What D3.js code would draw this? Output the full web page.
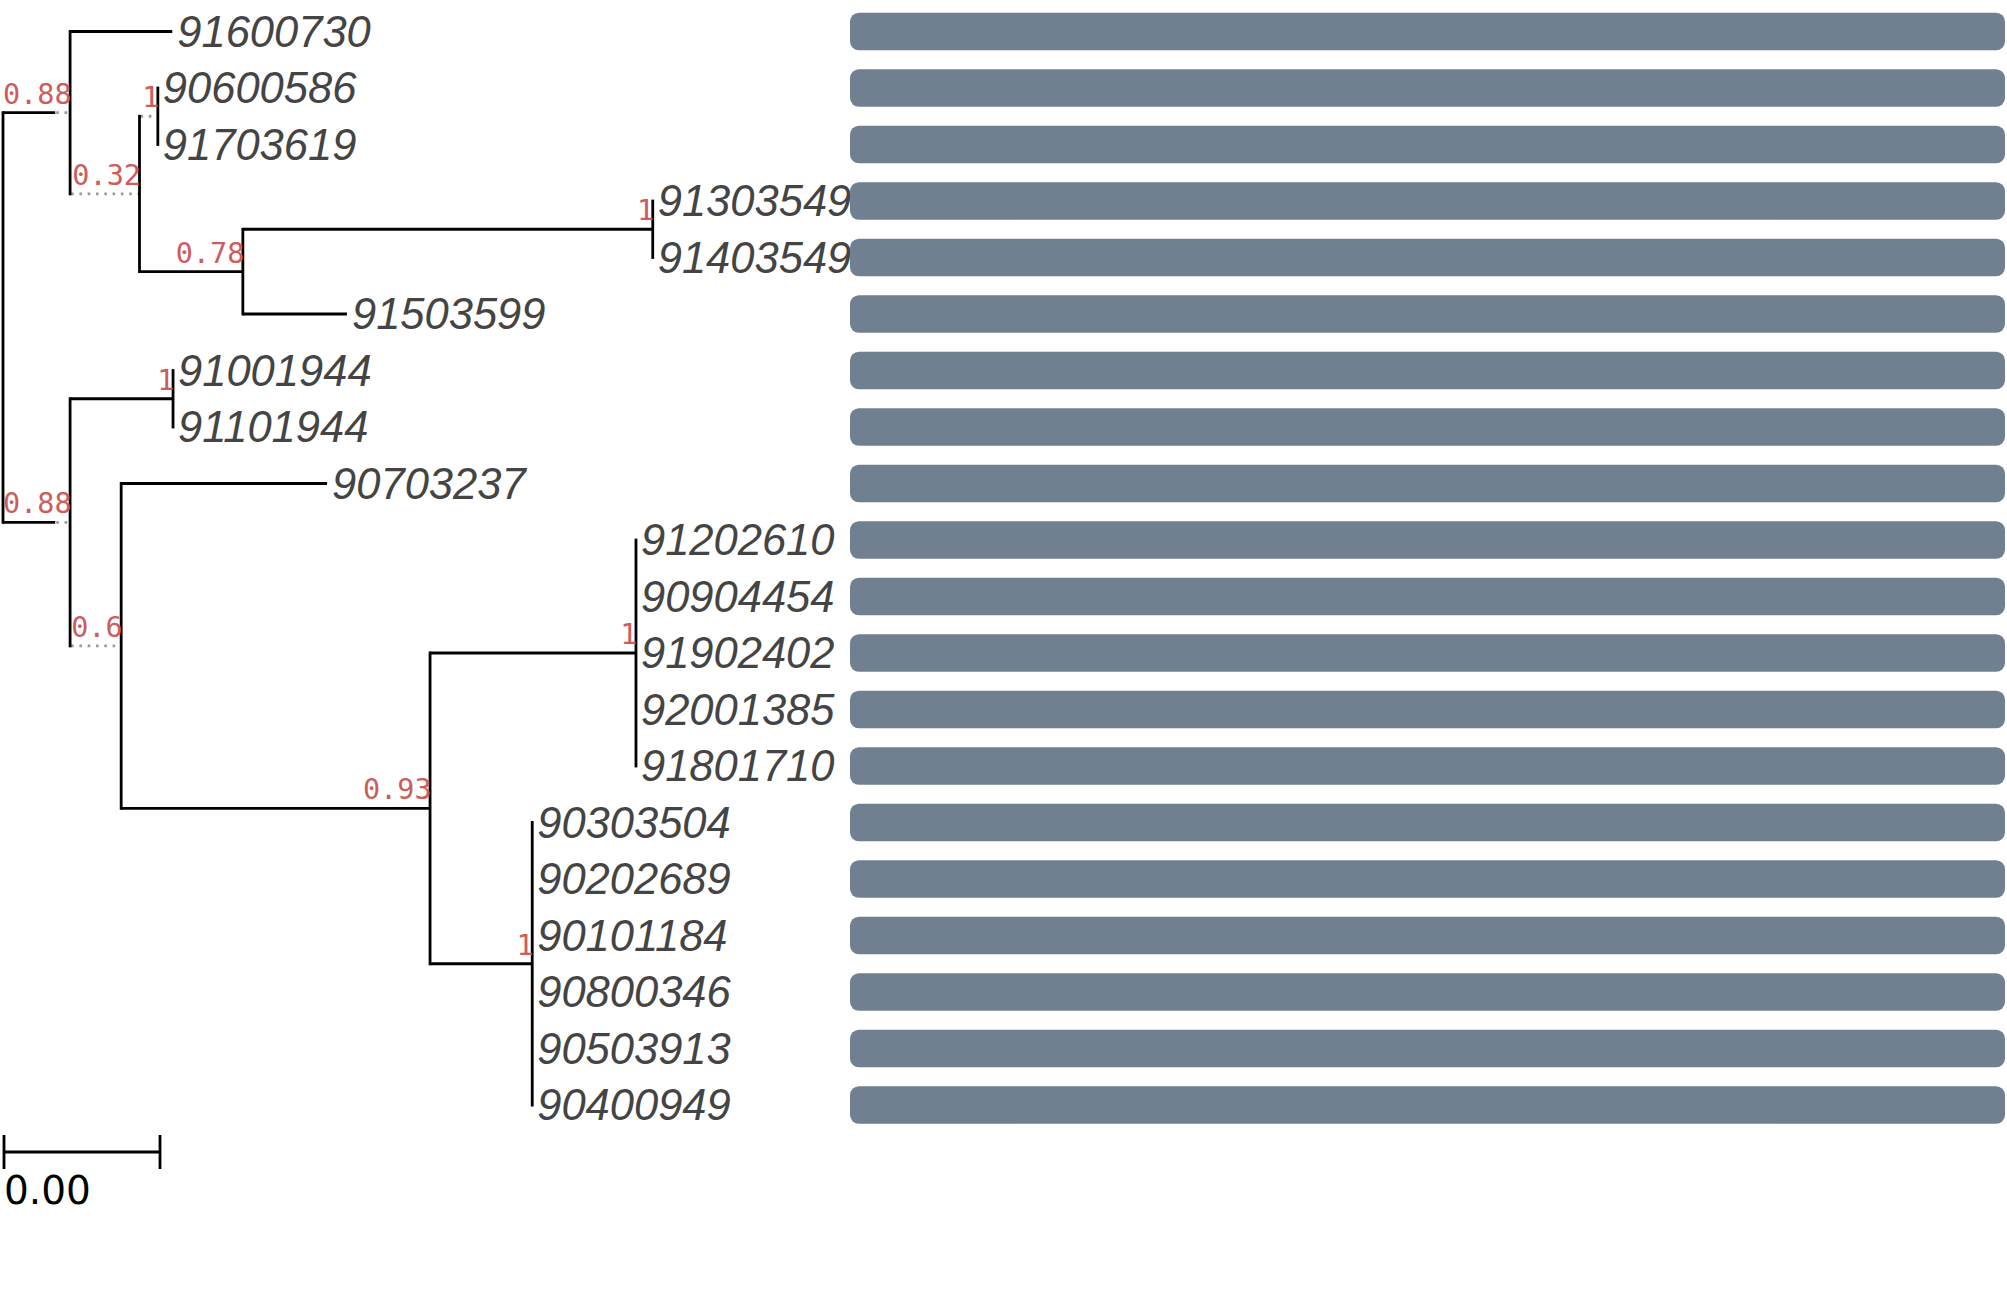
<!DOCTYPE html>
<html>
<head>
<meta charset="utf-8">
<script src="https://cdn.jsdelivr.net/npm/d3@7"></script>
<style>
  html, body { margin: 0; padding: 0; background: #ffffff; }
  svg { display: block; }
</style>
</head>
<body>
<svg id="chart" width="2007" height="1293"></svg>
<script>
// ---------------- DATA ----------------
const leafNames = ["91600730","90600586","91703619","91303549","91403549","91503599",
  "91001944","91101944","90703237","91202610","90904454","91902402","92001385","91801710",
  "90303504","90202689","90101184","90800346","90503913","90400949"];
const leafParents = ["A","C","C","E","E","D","G","G","H","J","J","J","J","J",
  "K","K","K","K","K","K"];
const leafLengths = [0.00262,0,0,0,0,0.00267,0,0,0.00528,0,0,0,0,0,0,0,0,0,0,0];

const internalIds      = ["root","A","B","C","D","E","F","G","H","I","J","K"];
const internalParents  = [null,"root","A","B","B","D","root","F","F","H","I","I"];
const internalLengths  = [0,0.00172,0.00178,0.00047,0.00265,0.01051,0.00172,0.00264,0.00131,0.00792,0.00528,0.00262];
const internalDotted   = [0,0.00038,0.00178,0.00047,0,0,0.00038,0,0.00131,0,0,0];
const internalSupport  = [null,0.88,0.32,1,0.78,1,0.88,1,0.6,0.93,1,1];

const barValues = [1,1,1,1,1,1,1,1,1,1,1,1,1,1,1,1,1,1,1,1];

const scaleBarValue = 0.004;

// ---------------- BUILD ----------------
const rows = [];
internalIds.forEach((id, i) => rows.push({id, parent: internalParents[i], len: internalLengths[i],
  dot: internalDotted[i], support: internalSupport[i]}));
leafNames.forEach((id, i) => rows.push({id, parent: leafParents[i], len: leafLengths[i], dot: 0,
  support: null, leafIndex: i}));

const root = d3.stratify().id(d => d.id).parentId(d => d.parent)(rows);

const svg = d3.select("#chart");

const x = d3.scaleLinear().domain([0, 0.004]).range([3, 159]);
const y = d3.scalePoint().domain(leafNames).range([31.5, 1105]);

// depth
root.eachBefore(n => { n.dist = n.parent ? n.parent.dist + n.data.len : 0; });
// y
root.eachAfter(n => {
  if (!n.children) n.yy = y(n.data.id);
  else {
    const ys = n.children.map(c => c.yy);
    n.yy = (d3.min(ys) + d3.max(ys)) / 2;
  }
});

const sw = 2.8;
const g = svg.append("g");

// horizontal branches
root.descendants().filter(n => n.parent).forEach(n => {
  const x0 = x(n.parent.dist), x1 = x(n.dist);
  if (x1 - x0 <= 0.01) return;
  const xd = x(n.dist - n.data.dot);
  if (xd - x0 > 0.01) {
    g.append("line").attr("x1", x0).attr("x2", xd).attr("y1", n.yy).attr("y2", n.yy)
      .attr("stroke", "#000").attr("stroke-width", sw);
  }
  if (n.data.dot > 0) {
    g.append("line").attr("x1", xd + 1).attr("x2", x1).attr("y1", n.yy).attr("y2", n.yy)
      .attr("stroke", "#9a9a9a").attr("stroke-width", sw).attr("stroke-dasharray", "2.6 5.7");
  }
});

// vertical lines
root.descendants().filter(n => n.children).forEach(n => {
  const ys = n.children.map(c => c.yy);
  g.append("line").attr("x1", x(n.dist)).attr("x2", x(n.dist))
    .attr("y1", d3.min(ys) - sw / 2).attr("y2", d3.max(ys) + sw / 2)
    .attr("stroke", "#000").attr("stroke-width", sw);
});

// support labels
root.descendants().filter(n => n.children && n.data.support != null).forEach(n => {
  g.append("text").attr("x", x(n.dist) + 1.5).attr("y", n.yy - 9)
    .attr("text-anchor", "end")
    .attr("font-family", "DejaVu Sans Mono")
    .attr("font-size", 28.5)
    .attr("fill", "#cd5c5c")
    .text(String(n.data.support));
});

// tip labels
root.leaves().forEach(n => {
  g.append("text").attr("x", x(n.dist) + 5).attr("y", n.yy + 15)
    .attr("font-family", "Liberation Sans")
    .attr("font-style", "italic")
    .attr("font-size", 43.5)
    .attr("fill", "#444444")
    .text(n.data.id);
});

// bars
const xb = d3.scaleLinear().domain([0, 1]).range([850, 2005]);
const barH = y.step() * 0.668;
svg.append("g").selectAll("rect").data(leafNames).join("rect")
  .attr("x", xb(0))
  .attr("y", d => y(d) - barH / 2)
  .attr("width", (d, i) => xb(barValues[i]) - xb(0))
  .attr("height", barH)
  .attr("rx", 9).attr("ry", 9)
  .attr("fill", "#708090");

// scale bar
const sb = svg.append("g");
const sbY = 1152;
sb.append("line").attr("x1", x(0) + 1).attr("x2", x(scaleBarValue) + 1).attr("y1", sbY).attr("y2", sbY)
  .attr("stroke", "#000").attr("stroke-width", sw);
[0, scaleBarValue].forEach(v => {
  sb.append("line").attr("x1", x(v) + 1).attr("x2", x(v) + 1).attr("y1", sbY - 17).attr("y2", sbY + 17)
    .attr("stroke", "#000").attr("stroke-width", sw);
});
sb.append("text").attr("x", 4).attr("y", 1204)
  .attr("font-family", "DejaVu Sans")
  .attr("font-size", 39)
  .attr("fill", "#000")
  .text(d3.format(".2f")(scaleBarValue));
</script>
</body>
</html>
